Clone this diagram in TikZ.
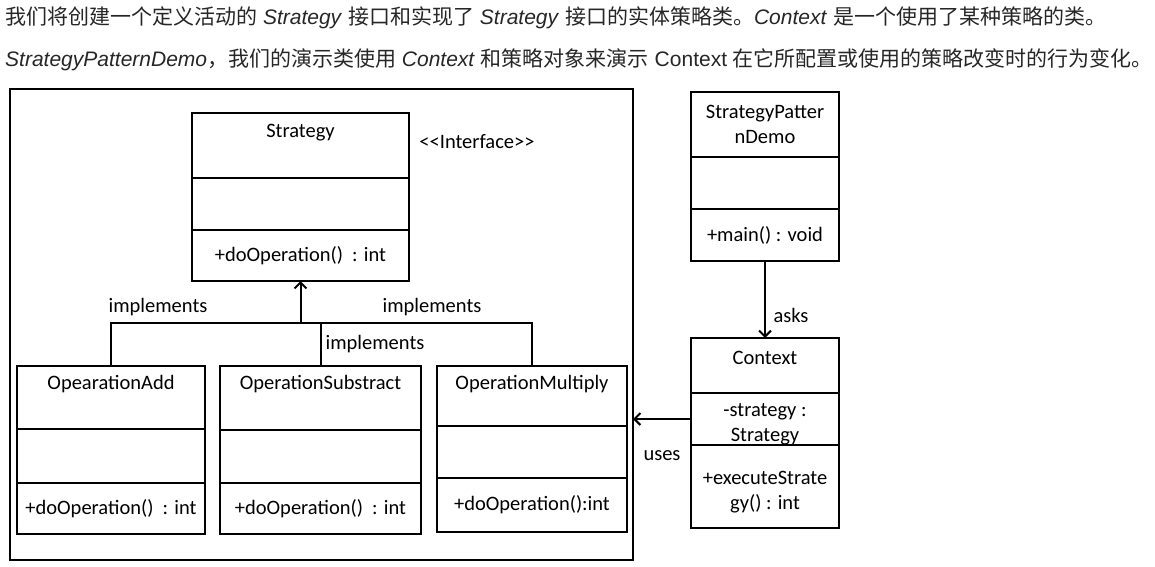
\documentclass[tikz,border=0pt]{standalone}
\usepackage{fontspec}
\setmainfont{Liberation Sans}
\newfontfamily\cjk{Noto Sans CJK SC}
\newfontfamily\uml{Carlito}
\usetikzlibrary{positioning}
\usetikzlibrary{arrows.meta}

\tikzset{
  box/.style={draw, line width=2pt, inner sep=0pt, outer sep=0pt, anchor=north west},
  txt/.style={font=\uml\fontsize{20.5}{25.5}\selectfont, inner sep=0pt, align=center},
  link/.style={line width=2pt, -{Straight Barb[length=6pt, width=12pt, line width=2pt]}},
  wire/.style={line width=2pt},
  intro/.style={anchor=west, inner sep=0pt, font=\fontsize{21}{24}\selectfont, text=black!85},
}

\begin{document}
\begin{tikzpicture}[x=1pt, y=-1pt]
  \useasboundingbox (0,0) rectangle (1155,566);

  % two lines of text above
  \node[intro] (line1) at (5,18) {{\cjk 我们将创建一个定义活动的} \textit{Strategy} {\cjk 接口和实现了} \textit{Strategy} {\cjk 接口的实体策略类。}\textit{Context} {\cjk 是一个使用了某种策略的类。}};
  \node[intro] (line2) at (5,60) {\textit{StrategyPatternDemo}{\cjk ，我们的演示类使用} \textit{Context} {\cjk 和策略对象来演示} Context {\cjk 在它所配置或使用的策略改变时的行为变化。}};

  % frame
  \node[box, minimum width=623pt, minimum height=471pt] (frame) at (10,89) {};

  % interface
  \node[box, minimum width=217pt, minimum height=65pt] (strategy) at (192,113) {};
  \node[box, minimum width=217pt, minimum height=52pt, below=0pt of strategy.south west, anchor=north west] (strategyAttr) {};
  \node[box, txt, minimum width=217pt, minimum height=51pt, below=0pt of strategyAttr.south west, anchor=north west] (strategyOps) {+doOperation()\ \ : int};
  \node[txt, below=11pt of strategy.north] (strategyName) {Strategy};
  \node[txt] (interface) at (477,142) {<{}<Interface>{}>};

  % concrete strategies
  \node[box, minimum width=188pt, minimum height=63pt] (add) at (17,366) {};
  \node[box, minimum width=188pt, minimum height=54pt, below=0pt of add.south west, anchor=north west] (addAttr) {};
  \node[box, txt, minimum width=188pt, minimum height=51pt, below=0pt of addAttr.south west, anchor=north west] (addOps) {+doOperation()\ \ : int};
  \node[txt, below=9pt of add.north] (addName) {OpearationAdd};

  \node[box, minimum width=201pt, minimum height=64pt] (sub) at (220,366) {};
  \node[box, minimum width=201pt, minimum height=53pt, below=0pt of sub.south west, anchor=north west] (subAttr) {};
  \node[box, txt, minimum width=201pt, minimum height=51pt, below=0pt of subAttr.south west, anchor=north west] (subOps) {+doOperation()\ \ : int};
  \node[txt, below=9pt of sub.north] (subName) {OperationSubstract};

  \node[box, minimum width=190pt, minimum height=60pt] (mul) at (437,366) {};
  \node[box, minimum width=190pt, minimum height=52pt, below=0pt of mul.south west, anchor=north west] (mulAttr) {};
  \node[box, txt, minimum width=190pt, minimum height=54pt, below=0pt of mulAttr.south west, anchor=north west] (mulOps) {+doOperation():int};
  \node[txt, below=9pt of mul.north] (mulName) {OperationMultiply};

  % demo and context
  \node[box, txt, minimum width=148pt, minimum height=65pt] (demo) at (691,92) {StrategyPatter\\nDemo};
  \node[box, minimum width=148pt, minimum height=52pt, below=0pt of demo.south west, anchor=north west] (demoAttr) {};
  \node[box, txt, minimum width=148pt, minimum height=52pt, below=0pt of demoAttr.south west, anchor=north west] (demoOps) {+main() : void};

  \node[box, minimum width=148pt, minimum height=55pt] (context) at (691,338) {};
  \node[box, minimum width=148pt, minimum height=52pt, below=0pt of context.south west, anchor=north west] (contextAttr) {};
  \node[box, minimum width=148pt, minimum height=83pt, below=0pt of contextAttr.south west, anchor=north west] (contextOps) {};
  \node[txt, below=13pt of context.north] (contextName) {Context};
  \node[txt, below=-16pt of contextAttr.center] (contextField) {-strategy :\\Strategy};
  \node[txt, below=-16pt of contextOps.center] (contextMethod) {+executeStrate\\gy() : int};

  % implements
  \coordinate (fork) at ([yshift=-42pt]strategyOps.south);
  \draw[link] (fork) -- (strategyOps.south);
  \draw[wire] (add.north) |- (fork) -| (mul.north);
  \draw[wire] (sub.north) -- (sub.north |- fork);
  \node[txt] (implLeft) at (158,307) {implements};
  \node[txt] (implRight) at (432,307) {implements};
  \node[txt] (implMid) at (375,344) {implements};

  % asks, uses
  \draw[link] (demoOps.south) -- (context.north);
  \node[txt] (asksLabel) at (791,315) {asks};
  \draw[link] (contextAttr.west) -- (frame.east |- contextAttr.west);
  \node[txt] (usesLabel) at (662,456) {uses};
\end{tikzpicture}
\end{document}
